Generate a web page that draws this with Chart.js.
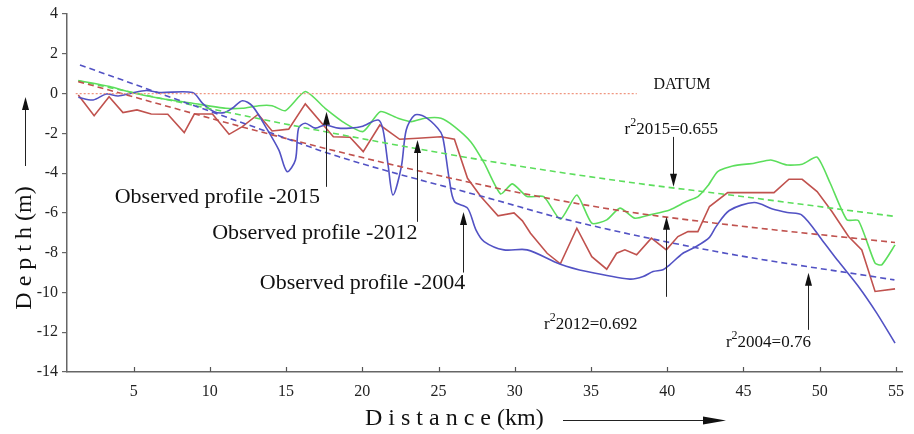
<!DOCTYPE html>
<html>
<head>
<meta charset="utf-8">
<script src="https://cdn.jsdelivr.net/npm/chart.js@4.4.1/dist/chart.umd.min.js"></script>
<style>
  html, body { margin: 0; padding: 0; background: #fff; }
</style>
</head>
<body>
<canvas id="depthChart" width="914" height="434"></canvas>
<script>
// observed bed profiles (distance in km, depth in m)
const dist2015 = [1.37, 3.44, 4.85, 6.69, 8.87, 11.04, 12.13, 13.21, 14.08, 14.95, 16.26, 17.56, 18.86, 20.06, 21.17, 22.34, 23.21, 24.08, 25.16, 26.04, 27.12, 27.99, 29.07, 29.84, 30.81, 31.90, 32.99, 34.07, 35.05, 36.03, 36.90, 37.88, 38.86, 40.16, 41.25, 42.01, 42.66, 43.31, 44.29, 45.70, 46.79, 47.87, 48.85, 49.83, 50.69, 51.78, 52.54, 53.63, 54.07, 54.94];
const depth2015 = [0.65, 0.35, 0.05, -0.24, -0.49, -0.74, -0.74, -0.61, -0.61, -0.86, 0.10, -0.74, -1.49, -1.91, -0.91, -1.24, -1.41, -1.24, -1.24, -1.66, -2.43, -3.49, -5.05, -4.54, -5.18, -5.18, -6.32, -5.10, -6.52, -6.35, -5.76, -6.27, -6.10, -5.85, -5.43, -5.18, -4.64, -3.92, -3.64, -3.50, -3.34, -3.59, -3.55, -3.20, -4.51, -6.35, -6.39, -8.53, -8.61, -7.61];

const dist2012 = [1.37, 2.41, 3.39, 4.30, 5.22, 6.15, 7.24, 8.32, 8.98, 10.17, 11.26, 12.13, 13.17, 14.08, 15.17, 16.26, 18.10, 19.19, 20.06, 21.15, 22.45, 23.64, 25.16, 26.04, 26.90, 27.77, 28.90, 29.95, 30.50, 31.03, 32.12, 32.99, 34.07, 35.05, 36.03, 36.68, 37.22, 37.99, 38.96, 39.94, 40.70, 41.36, 42.01, 42.77, 43.96, 47.00, 47.98, 48.85, 49.83, 50.80, 51.89, 52.76, 53.63, 54.94];
const depth2012 = [-0.07, -1.11, -0.16, -0.96, -0.82, -1.03, -1.04, -1.96, -1.03, -1.03, -2.05, -1.66, -1.04, -1.88, -1.79, -0.52, -2.17, -2.20, -2.92, -1.58, -2.30, -2.25, -2.17, -2.30, -4.26, -5.18, -6.15, -6.00, -6.40, -7.02, -8.03, -8.56, -6.77, -8.20, -8.83, -8.03, -7.86, -8.11, -7.27, -7.86, -7.19, -6.94, -6.94, -5.68, -4.98, -4.98, -4.31, -4.31, -4.93, -5.93, -7.19, -7.86, -9.95, -9.82];

const dist2004 = [1.37, 2.35, 3.22, 3.98, 4.85, 5.83, 6.69, 8.87, 9.52, 10.28, 10.93, 11.47, 12.13, 12.78, 13.65, 14.52, 15.06, 15.61, 15.82, 16.26, 16.91, 17.56, 18.43, 19.19, 19.95, 21.04, 21.36, 21.69, 22.01, 22.56, 22.88, 23.43, 24.08, 24.95, 25.27, 25.71, 26.04, 26.90, 27.45, 27.99, 29.29, 30.81, 32.99, 34.73, 37.55, 38.42, 39.07, 39.72, 40.16, 41.03, 41.90, 42.77, 43.20, 44.07, 45.70, 46.90, 47.87, 48.85, 50.15, 51.24, 52.54, 53.74, 54.94];
const depth2004 = [-0.19, -0.32, -0.02, -0.12, 0.02, 0.15, 0.05, 0.05, -0.49, -0.91, -0.96, -0.74, -0.36, -0.62, -1.66, -2.83, -3.92, -3.34, -1.74, -1.49, -1.74, -1.58, -1.74, -1.74, -1.66, -1.33, -1.83, -3.59, -5.10, -3.67, -1.83, -1.08, -1.16, -1.74, -2.17, -4.34, -5.43, -5.76, -6.85, -7.44, -7.86, -7.86, -8.58, -8.95, -9.33, -9.20, -8.95, -8.86, -8.61, -8.03, -7.69, -7.23, -6.69, -5.88, -5.48, -5.80, -5.98, -6.12, -7.36, -8.45, -9.70, -11.04, -12.55];

// fitted trend curves
const trendDist2015 = [1.37, 15.82, 28.86, 37.99, 43.2, 55.05];
const trendDepth2015 = [0.63, -1.66, -3.47, -4.51, -5.01, -6.19];
const trendDist2012 = [1.37, 15.82, 28.86, 36.68, 43.2, 54.94];
const trendDepth2012 = [0.60, -2.42, -4.76, -5.86, -6.52, -7.49];
const trendDist2004 = [1.48, 14.08, 18.43, 28.86, 33.2, 43.2, 54.9];
const trendDepth2004 = [1.44, -2.0, -3.17, -5.38, -6.3, -7.94, -9.37];

const datumDist = [1.2, 38.0];
const datumDepth = [0, 0];

const xTickValues = [5, 10, 15, 20, 25, 30, 35, 40, 45, 50, 55];

const GREEN = 'rgb(92, 222, 92)';
const RED = 'rgb(192, 82, 78)';
const BLUE = 'rgb(82, 82, 196)';
const SERIF = '"Liberation Serif", "DejaVu Serif", serif';

function pairs(xs, ys) {
  return xs.map((v, i) => ({ x: v, y: ys[i] }));
}

// text labels and pointer arrows, positioned in data units
const labels = [
  { text: 'Observed profile -2015', x: 3.76, y: -5.2 },
  { text: 'Observed profile -2012', x: 10.15, y: -7.0 },
  { text: 'Observed profile -2004', x: 13.28, y: -9.52 }
];
const fitLabels = [
  { year: '2015', r2: '0.655', x: 37.2, y: -1.83 },
  { year: '2012', r2: '0.692', x: 31.92, y: -11.63 },
  { year: '2004', r2: '0.76', x: 43.85, y: -12.53 }
];
const pointers = [
  { x: 17.65, from: -4.69, to: -0.92 },
  { x: 23.58, from: -6.45, to: -2.33 },
  { x: 26.58, from: -9.0, to: -5.95 },
  { x: 40.4, from: -2.18, to: -4.69 },
  { x: 39.94, from: -10.22, to: -6.2 },
  { x: 49.2, from: -11.88, to: -9.01 }
];

function vArrow(ctx, x, y1, y2) {
  const dir = y2 < y1 ? 1 : -1;
  ctx.beginPath();
  ctx.moveTo(x, y1);
  ctx.lineTo(x, y2 + dir * 10);
  ctx.stroke();
  ctx.beginPath();
  ctx.moveTo(x, y2);
  ctx.lineTo(x - 3.5, y2 + dir * 13);
  ctx.lineTo(x + 3.5, y2 + dir * 13);
  ctx.closePath();
  ctx.fill();
}

const overlay = {
  id: 'overlay',
  afterDraw(chart) {
    const { ctx, chartArea } = chart;
    const sx = chart.scales.x;
    const sy = chart.scales.y;
    ctx.save();

    // x ticks point into the plot
    ctx.strokeStyle = '#555';
    ctx.lineWidth = 1.2;
    xTickValues.forEach(v => {
      const px = Math.round(sx.getPixelForValue(v)) + 0.5;
      ctx.beginPath();
      ctx.moveTo(px, chartArea.bottom);
      ctx.lineTo(px, chartArea.bottom - 5);
      ctx.stroke();
    });

    ctx.fillStyle = '#111';
    ctx.strokeStyle = '#222';
    ctx.lineWidth = 1;
    ctx.textBaseline = 'middle';
    ctx.textAlign = 'left';

    ctx.font = '22px ' + SERIF;
    labels.forEach(l => ctx.fillText(l.text, sx.getPixelForValue(l.x), sy.getPixelForValue(l.y)));

    ctx.font = '16px ' + SERIF;
    ctx.fillText('DATUM', sx.getPixelForValue(39.1), sy.getPixelForValue(0.43));

    fitLabels.forEach(f => {
      let px = sx.getPixelForValue(f.x);
      const py = sy.getPixelForValue(f.y);
      ctx.font = '17px ' + SERIF;
      ctx.fillText('r', px, py);
      px += ctx.measureText('r').width;
      ctx.font = '12px ' + SERIF;
      ctx.fillText('2', px, py - 7);
      px += ctx.measureText('2').width;
      ctx.font = '17px ' + SERIF;
      ctx.fillText(f.year + '=' + f.r2, px, py);
    });

    pointers.forEach(p => {
      const px = Math.round(sx.getPixelForValue(p.x)) + 0.5;
      vArrow(ctx, px, sy.getPixelForValue(p.from), sy.getPixelForValue(p.to));
    });

    // axis titles with direction arrows
    ctx.font = '24px ' + SERIF;
    ctx.save();
    ctx.translate(25, 248);
    ctx.rotate(-Math.PI / 2);
    ctx.textAlign = 'center';
    ctx.fillText('D e p t h (m)', 0, 0);
    ctx.restore();
    vArrow(ctx, 25.5, 166, 97);

    ctx.textAlign = 'left';
    ctx.fillText('D i s t a n c e (km)', 365, 419);
    ctx.beginPath();
    ctx.moveTo(563, 420.5);
    ctx.lineTo(712, 420.5);
    ctx.stroke();
    ctx.beginPath();
    ctx.moveTo(726, 420.5);
    ctx.lineTo(703, 416.5);
    ctx.lineTo(703, 424.5);
    ctx.closePath();
    ctx.fill();

    ctx.restore();
  }
};

function profile(label, xs, ys, color, tension) {
  return {
    label: label,
    data: pairs(xs, ys),
    borderColor: color,
    borderWidth: 1.6,
    pointRadius: 0,
    tension: tension,
    fill: false
  };
}

function trend(label, xs, ys, color) {
  return {
    label: label,
    data: pairs(xs, ys),
    borderColor: color,
    borderWidth: 1.6,
    borderDash: [6, 4],
    pointRadius: 0,
    cubicInterpolationMode: 'monotone',
    fill: false
  };
}

const ctx = document.getElementById('depthChart').getContext('2d');
const depthChart = new Chart(ctx, {
  type: 'line',
  data: {
    datasets: [
      {
        label: 'Datum',
        data: pairs(datumDist, datumDepth),
        borderColor: 'rgb(240, 150, 128)',
        borderWidth: 1.3,
        borderDash: [2, 2],
        pointRadius: 0
      },
      trend('Trend 2004', trendDist2004, trendDepth2004, BLUE),
      trend('Trend 2012', trendDist2012, trendDepth2012, RED),
      trend('Trend 2015', trendDist2015, trendDepth2015, GREEN),
      profile('Observed 2004', dist2004, depth2004, BLUE, 0.3),
      profile('Observed 2012', dist2012, depth2012, RED, 0),
      profile('Observed 2015', dist2015, depth2015, GREEN, 0.2)
    ]
  },
  options: {
    responsive: false,
    animation: false,
    layout: { padding: { top: 14, right: 7, bottom: 0, left: 0 } },
    plugins: {
      legend: { display: false },
      tooltip: { enabled: false }
    },
    scales: {
      x: {
        type: 'linear',
        min: 0.63,
        max: 55.4,
        afterBuildTicks: function(scale) {
          scale.ticks = xTickValues.map(v => ({ value: v }));
        },
        afterFit: function(scale) {
          scale.height = 62;
        },
        ticks: {
          color: '#222',
          padding: 10,
          font: { family: SERIF, size: 16 }
        },
        grid: { display: false, drawTicks: false },
        border: { display: true, color: '#666', width: 1.5 }
      },
      y: {
        min: -14,
        max: 4,
        afterFit: function(scale) {
          scale.width = 67;
        },
        ticks: {
          stepSize: 2,
          color: '#222',
          padding: 4,
          font: { family: SERIF, size: 16 }
        },
        grid: {
          display: true,
          drawOnChartArea: false,
          drawTicks: true,
          tickLength: 5,
          color: '#666',
          lineWidth: 1.2
        },
        border: { display: true, color: '#666', width: 1.5 }
      }
    }
  },
  plugins: [overlay]
});
</script>
</body>
</html>
